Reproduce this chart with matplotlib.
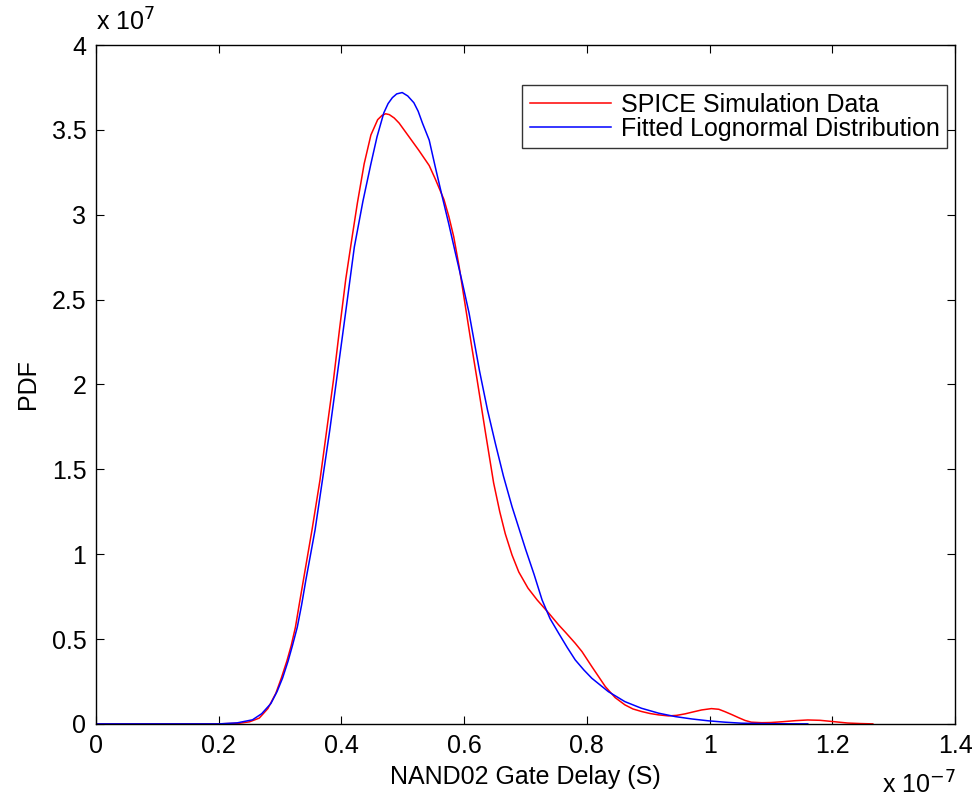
import matplotlib
matplotlib.use("Agg")
import matplotlib.pyplot as plt
from matplotlib.ticker import FuncFormatter

# gate delay in units of 1e-7 s, PDF in units of 1e7
spice_x = [0.0, 0.20, 0.234, 0.250, 0.266, 0.280, 0.293, 0.302, 0.311, 0.318,
           0.325, 0.331, 0.338, 0.352, 0.365, 0.376, 0.387, 0.397, 0.407, 0.417,
           0.426, 0.437, 0.448, 0.459, 0.466, 0.472, 0.478, 0.486, 0.494, 0.510,
           0.526, 0.543, 0.553, 0.567, 0.575, 0.583, 0.592, 0.602, 0.612, 0.621,
           0.635, 0.648, 0.658, 0.667, 0.678, 0.689, 0.704, 0.719, 0.738, 0.754,
           0.765, 0.781, 0.792, 0.808, 0.830, 0.846, 0.862, 0.875, 0.889, 0.903,
           0.917, 0.933, 0.946, 0.960, 0.975, 0.987, 1.003, 1.015, 1.025, 1.036,
           1.047, 1.058, 1.068, 1.085, 1.100, 1.120, 1.140, 1.160, 1.180, 1.200,
           1.225, 1.245, 1.266]
spice_y = [0.0, 0.0, 0.004, 0.012, 0.034, 0.090, 0.180, 0.270, 0.370, 0.460,
           0.570, 0.700, 0.848, 1.143, 1.437, 1.732, 2.027, 2.330, 2.620, 2.860,
           3.070, 3.300, 3.470, 3.560, 3.585, 3.595, 3.590, 3.570, 3.540, 3.460,
           3.380, 3.290, 3.210, 3.090, 2.990, 2.870, 2.690, 2.460, 2.230, 2.030,
           1.710, 1.420, 1.250, 1.120, 0.995, 0.895, 0.800, 0.730, 0.652, 0.583,
           0.540, 0.475, 0.426, 0.338, 0.220, 0.155, 0.112, 0.088, 0.073, 0.061,
           0.053, 0.047, 0.050, 0.059, 0.072, 0.082, 0.090, 0.086, 0.072, 0.055,
           0.037, 0.020, 0.010, 0.007, 0.008, 0.013, 0.019, 0.023, 0.021, 0.014,
           0.005, 0.002, 0.0]

fit_x = [0.0, 0.20, 0.230, 0.255, 0.270, 0.285, 0.295, 0.304, 0.313, 0.320,
         0.328, 0.335, 0.342, 0.357, 0.369, 0.381, 0.392, 0.407, 0.421, 0.435,
         0.448, 0.458, 0.469, 0.476, 0.483, 0.490, 0.499, 0.508, 0.518, 0.525,
         0.532, 0.543, 0.553, 0.564, 0.575, 0.586, 0.597, 0.608, 0.625, 0.638,
         0.651, 0.664, 0.678, 0.700, 0.714, 0.727, 0.740, 0.754, 0.768, 0.781,
         0.795, 0.808, 0.835, 0.862, 0.889, 0.917, 0.944, 0.971, 0.998, 1.025,
         1.052, 1.100, 1.160]
fit_y = [0.0, 0.0, 0.006, 0.024, 0.060, 0.120, 0.190, 0.270, 0.370, 0.460,
         0.570, 0.700, 0.848, 1.143, 1.437, 1.732, 2.027, 2.430, 2.810, 3.080,
         3.300, 3.460, 3.600, 3.655, 3.690, 3.712, 3.720, 3.700, 3.660, 3.610,
         3.540, 3.440, 3.280, 3.110, 2.945, 2.770, 2.600, 2.420, 2.080, 1.850,
         1.650, 1.460, 1.280, 1.030, 0.880, 0.730, 0.620, 0.534, 0.450, 0.377,
         0.318, 0.269, 0.190, 0.131, 0.092, 0.063, 0.043, 0.029, 0.018, 0.010,
         0.004, 0.001, 0.0]

labels = ["SPICE Simulation Data", "Fitted Lognormal Distribution"]

plt.rcParams["font.family"] = ["Liberation Sans", "DejaVu Sans"]
FS = 18

fig = plt.figure(figsize=(9.8, 8.07), dpi=100)
ax = fig.add_axes([0.098, 0.103, 0.8765, 0.8412])

ax.plot(spice_x, spice_y, color="red", lw=1.1, label=labels[0])
ax.plot(fit_x, fit_y, color="blue", lw=1.1, label=labels[1])

ax.set_xlim(0, 1.4)
ax.set_ylim(0, 4)
ax.set_xticks([0, 0.2, 0.4, 0.6, 0.8, 1.0, 1.2, 1.4])
ax.set_yticks([0, 0.5, 1, 1.5, 2, 2.5, 3, 3.5, 4])
fmt = FuncFormatter(lambda v, p: f"{v:g}")
ax.xaxis.set_major_formatter(fmt)
ax.yaxis.set_major_formatter(fmt)
ax.tick_params(direction="in", length=6, width=0.8, top=True, right=True,
               labelsize=FS, pad=7)
for s in ax.spines.values():
    s.set_linewidth(1.0)

ax.set_xlabel("NAND02 Gate Delay (S)", fontsize=FS, labelpad=5)
ax.set_ylabel("PDF", fontsize=FS, labelpad=8)

fig.text(0.098, 0.962, r"x 10$^{7}$", fontsize=FS, ha="left", va="baseline")
fig.text(0.975, 0.017, r"x 10$^{-7}$", fontsize=FS, ha="right", va="baseline")

leg = ax.legend(loc="upper right", bbox_to_anchor=(0.991, 0.941), fontsize=18,
                frameon=True, fancybox=False, edgecolor="black",
                borderaxespad=0, handlelength=3.25, handletextpad=0.4,
                labelspacing=0.0, borderpad=0.3)
leg.get_frame().set_linewidth(1.0)

fig.savefig("out.png", dpi=100)
